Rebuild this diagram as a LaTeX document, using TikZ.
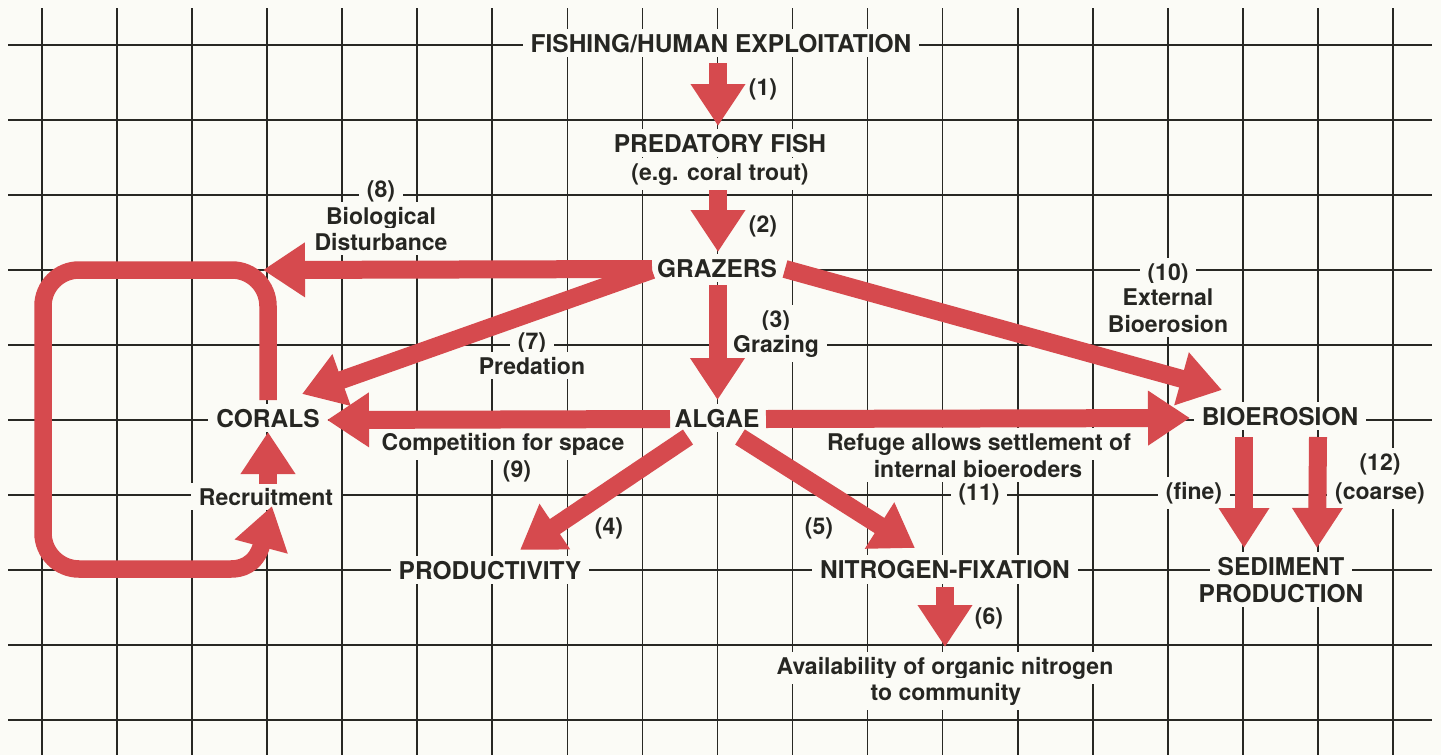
\documentclass[tikz,border=0pt]{standalone}
\usepackage{fontspec}
\setmainfont{TeX Gyre Heros}
\usetikzlibrary{arrows.meta,calc}
\definecolor{paper}{RGB}{251,251,246}
\definecolor{ink}{RGB}{38,38,34}
\definecolor{gridc}{RGB}{40,40,36}
\definecolor{ared}{RGB}{214,74,78}
\begin{document}
\begin{tikzpicture}[x=1pt,y=-1pt,
  lbl/.style={font=\bfseries\fontsize{23}{27}\selectfont, text=ink, fill=paper, inner xsep=8pt, inner ysep=5pt, anchor=base},
  caps/.style={lbl, font=\bfseries\fontsize{24.5}{28}\selectfont},
  bigarrow/.style={draw=ared, line width=18pt, -{Triangle[length=42pt,width=52pt]}},
  narrowhead/.style={draw=ared, line width=18pt, -{Triangle[length=40pt,width=48pt]}},
  gridline/.style={draw=gridc, line width=1.7pt}]
\fill[paper] (0,0) rectangle (1441,755);
\useasboundingbox (0,0) rectangle (1441,755);
% grid
\foreach \i in {0,...,18} \draw[gridline] ({42+75.05*\i},8) -- ({42+75.05*\i},755);
\foreach \j in {0,...,9} \draw[gridline] (8,{45+75*\j}) -- (1432,{45+75*\j});
% labels
\node[caps] (fishing) at (721,52) {FISHING/HUMAN EXPLOITATION};
\node[lbl] (n1) at (763,95) {(1)};
\node[caps] (fish) at (720,152) {PREDATORY FISH};
\node[lbl] (fishsub) at (720,180) {(e.g. coral trout)};
\node[lbl] (n2) at (763,232) {(2)};
\node[caps] (grazers) at (717,277) {GRAZERS};
\node[lbl] (n3) at (776,327) {(3)};
\node[lbl] (grazing) at (776,352) {Grazing};
\node[lbl] (n7) at (532,349) {(7)};
\node[lbl] (predation) at (532,374) {Predation};
\node[caps] (algae) at (717,427) {ALGAE};
\node[lbl] (competition) at (503,450) {Competition for space};
\node[lbl] (n9) at (517,477) {(9)};
\node[lbl] (refuge) at (979,450) {Refuge allows settlement of};
\node[lbl] (internal) at (978,477) {internal bioeroders};
\node[lbl] (n11) at (979,500) {(11)};
\node[lbl] (n10) at (1168,280) {(10)};
\node[lbl] (external) at (1168,305) {External};
\node[lbl] (bioerlbl) at (1168,332) {Bioerosion};
\node[caps] (bioerosion) at (1280,425) {BIOEROSION};
\node[lbl] (n12) at (1380,470) {(12)};
\node[lbl] (coarse) at (1380,499) {(coarse)};
\node[lbl] (fine) at (1194,499) {(fine)};
\node[caps] (sediment) at (1281,575) {SEDIMENT};
\node[caps] (production) at (1281,602) {PRODUCTION};
\node[lbl] (n6) at (989,624) {(6)};
\node[lbl] (avail) at (945,674) {Availability of organic nitrogen};
\node[lbl] (community) at (946,700) {to community};
\node[caps] (nitrogen) at (945,578.5) {NITROGEN-FIXATION};
\node[lbl] (n5) at (819,534) {(5)};
\node[lbl] (n4) at (609,534) {(4)};
\node[caps] (productivity) at (490,579) {PRODUCTIVITY};
\node[caps] (corals) at (268,427) {CORALS};
\node[lbl] (recruitment) at (266,505) {Recruitment};
\node[lbl] (n8) at (381,197) {(8)};
\node[lbl] (biological) at (381,224) {Biological};
\node[lbl] (disturbance) at (381,250) {Disturbance};
% arrows
\draw[bigarrow] ($(fishing.base)+(-3,11)$) -- ($(fish.base)+(-2,-26)$);
\draw[bigarrow] ($(fishsub.base)+(-2,10)$) -- ($(grazers.base)+(1,-25)$);
\draw[bigarrow] ($(grazers.base)+(0.5,8)$) -- ($(algae.base)+(0.5,-27)$);
\draw[bigarrow] ($(grazers.base)+(-65,-8)$) -- ($(corals.base)+(-5,-157)$);
\draw[bigarrow] ($(grazers.base)+(-65,-7)$) -- ($(corals.base)+(34,-33)$);
\draw[bigarrow] ($(grazers.base)+(68,-8)$) -- ($(bioerosion.base)+(-58,-35)$);
\draw[bigarrow] ($(algae.base)+(-47,-8)$) -- ($(corals.base)+(59,-7)$);
\draw[bigarrow] ($(algae.base)+(49,-8)$) -- ($(bioerosion.base)+(-90,-7)$);
\draw[bigarrow] ($(algae.base)+(-29,10)$) -- ($(productivity.base)+(30,-29)$);
\draw[bigarrow] ($(algae.base)+(23,10)$) -- ($(nitrogen.base)+(-30,-30.5)$);
\draw[bigarrow] ($(nitrogen.base)+(0,8.5)$) -- ($(avail.base)+(0,-27)$);
\draw[narrowhead] ($(bioerosion.base)+(-36,12)$) -- ($(sediment.base)+(-37,-27)$);
\draw[narrowhead] ($(bioerosion.base)+(38,12)$) -- ($(sediment.base)+(36,-27)$);
\draw[bigarrow] ($(recruitment.base)+(2,-21)$) -- ($(corals.base)+(0,5)$);
% loop from corals back to recruitment
\coordinate (loopTL) at (43,270);
\coordinate (loopB) at (195,569);
\draw[bigarrow, line width=17.5pt, rounded corners=36pt]
  ($(corals.base)+(0,-27)$) |- (loopTL) |- (loopB)
  .. controls (240,569) and (256,566) .. ($(recruitment.base)+(6,1)$);
\end{tikzpicture}
\end{document}
